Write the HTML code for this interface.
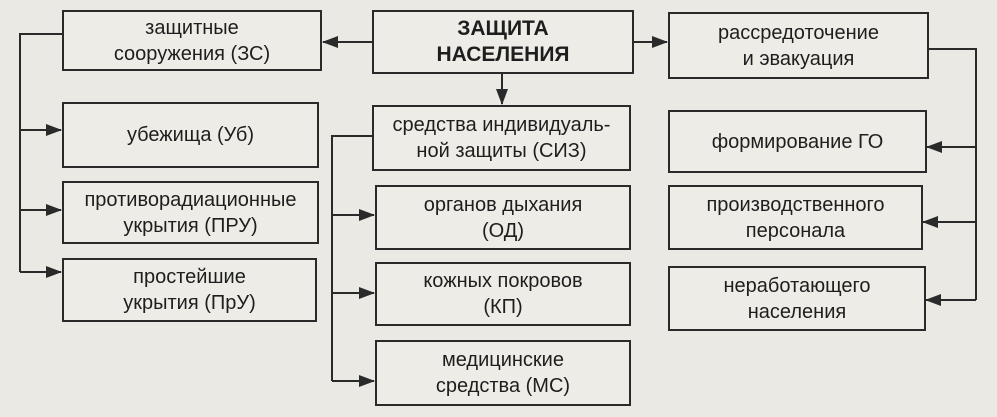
<!DOCTYPE html>
<html><head><meta charset="utf-8"><style>
body{margin:0;width:997px;height:417px;background:#ebe9e4;overflow:hidden;font-family:"Liberation Sans",Arial,sans-serif;}
.b{position:absolute;border:2px solid #2a2a2a;box-sizing:border-box;display:flex;align-items:center;justify-content:center;text-align:center;font-size:20px;line-height:26px;color:#1e1e1e;background:#eeece7;}
svg{position:absolute;left:0;top:0}
</style></head><body>
<svg width="997" height="417" stroke="#2a2a2a" stroke-width="2" fill="none">
<defs><marker id="a" markerWidth="16" markerHeight="14" refX="15" refY="7" orient="auto" markerUnits="userSpaceOnUse"><path d="M0,1 L16,7 L0,13z" fill="#2a2a2a" stroke="none"/></marker></defs>
<path d="M372,42 H323" marker-end="url(#a)"/>
<path d="M633,42 H667" marker-end="url(#a)"/>
<path d="M502,74 V104" marker-end="url(#a)"/>
<path d="M62,34 H20 V272"/>
<path d="M20,130 H61" marker-end="url(#a)"/>
<path d="M20,210 H61" marker-end="url(#a)"/>
<path d="M20,272 H61" marker-end="url(#a)"/>
<path d="M372,136 H332 V381"/>
<path d="M332,215 H374" marker-end="url(#a)"/>
<path d="M332,293 H374" marker-end="url(#a)"/>
<path d="M332,381 H374" marker-end="url(#a)"/>
<path d="M928,49 H976 V300"/>
<path d="M976,147 H927" marker-end="url(#a)"/>
<path d="M976,222 H923" marker-end="url(#a)"/>
<path d="M976,300 H926" marker-end="url(#a)"/>
</svg>
<div class="b" style="left:62px;top:10px;width:260px;height:61px">защитные<br>сооружения (ЗС)</div>
<div class="b" style="left:372px;top:10px;width:262px;height:64px;font-weight:bold;font-size:21px">ЗАЩИТА<br>НАСЕЛЕНИЯ</div>
<div class="b" style="left:668px;top:12px;width:261px;height:67px">рассредоточение<br>и эвакуация</div>
<div class="b" style="left:62px;top:102px;width:257px;height:66px">убежища (Уб)</div>
<div class="b" style="left:372px;top:105px;width:259px;height:66px">средства индивидуаль-<br>ной защиты (СИЗ)</div>
<div class="b" style="left:668px;top:110px;width:259px;height:63px">формирование ГО</div>
<div class="b" style="left:62px;top:181px;width:257px;height:63px">противорадиационные<br>укрытия (ПРУ)</div>
<div class="b" style="left:375px;top:185px;width:256px;height:65px">органов дыхания<br>(ОД)</div>
<div class="b" style="left:668px;top:185px;width:255px;height:65px">производственного<br>персонала</div>
<div class="b" style="left:62px;top:258px;width:255px;height:64px">простейшие<br>укрытия (ПрУ)</div>
<div class="b" style="left:375px;top:262px;width:256px;height:64px">кожных покровов<br>(КП)</div>
<div class="b" style="left:668px;top:266px;width:258px;height:65px">неработающего<br>населения</div>
<div class="b" style="left:375px;top:340px;width:256px;height:66px">медицинские<br>средства (МС)</div>
</body></html>
